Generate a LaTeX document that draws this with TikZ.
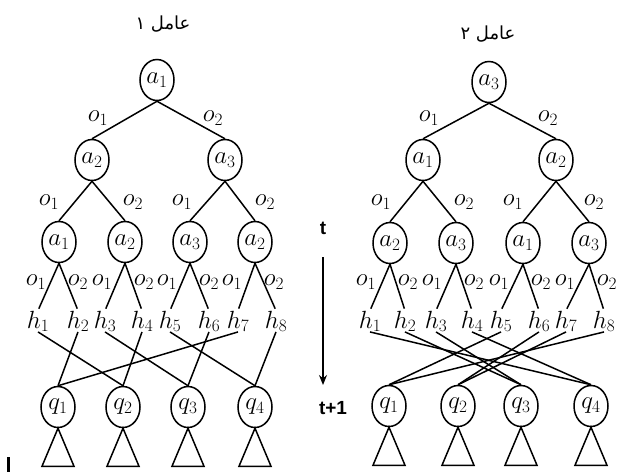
\documentclass[tikz,border=0pt]{standalone}
\usepackage{fontspec}
\usetikzlibrary{shapes.geometric,arrows.meta}
\TeXXeTstate=1
\newfontfamily\arabicfont[Script=Arabic]{DejaVu Sans}
\newfontfamily\labelsans{Liberation Sans}
\begin{document}
\begin{tikzpicture}[x=1pt,y=-1pt,
  st/.style={draw, ellipse, line width=1.5pt, minimum width=34pt, minimum height=41pt, inner sep=0pt, font=\fontsize{26}{30}\selectfont},
  hl/.style={inner sep=0pt, anchor=base, font=\fontsize{25}{29}\selectfont},
  ol/.style={inner sep=0pt, font=\fontsize{24}{28}\selectfont},
  ed/.style={line width=1.5pt},
  tri/.style={line width=1.5pt},
  ttl/.style={inner sep=0pt, font=\arabicfont\fontsize{18}{22}\selectfont},
  tl/.style={inner sep=0pt, font=\labelsans\bfseries\fontsize{19}{23}\selectfont}
]
\useasboundingbox (0,0) rectangle (622,472);

% ---------------- left tree ----------------
\node[ttl] (Lt) at (163,24) {\beginR عامل ۱\endR};
\node[st] (LR) at (157,80) {$a_1$};
\node[st] (L2a) at (92,160) {$a_2$};
\node[st] (L2b) at (225,160) {$a_3$};
\node[st] (L3a) at (59,242) {$a_1$};
\node[st] (L3b) at (125,242) {$a_2$};
\node[st] (L3c) at (190,242) {$a_3$};
\node[st] (L3d) at (255,242) {$a_2$};
\foreach \n/\x in {1/38,2/78,3/105,4/142,5/170,6/209,7/238,8/276}
  \node[hl] (Lh\n) at (\x,328) {$h_{\n}$};
\node[st] (Lq1) at (58,407) {$q_1$};
\node[st] (Lq2) at (123,407) {$q_2$};
\node[st] (Lq3) at (188,407) {$q_3$};
\node[st] (Lq4) at (255,407) {$q_4$};

\draw[ed] (LR.south) -- (L2a.north);
\draw[ed] (LR.south) -- (L2b.north);
\draw[ed] (L2a.south) -- (L3a.north);
\draw[ed] (L2a.south) -- (L3b.north);
\draw[ed] (L2b.south) -- (L3c.north);
\draw[ed] (L2b.south) -- (L3d.north);
\draw[ed,shorten >=2pt] (L3a.south) -- (Lh1.north);
\draw[ed,shorten >=2pt] (L3a.south) -- (Lh2.north);
\draw[ed,shorten >=2pt] (L3b.south) -- (Lh3.north);
\draw[ed,shorten >=2pt] (L3b.south) -- (Lh4.north);
\draw[ed,shorten >=2pt] (L3c.south) -- (Lh5.north);
\draw[ed,shorten >=2pt] (L3c.south) -- (Lh6.north);
\draw[ed,shorten >=2pt] (L3d.south) -- (Lh7.north);
\draw[ed,shorten >=2pt] (L3d.south) -- (Lh8.north);

\node[ol] (Lo1) at (98,118) {$o_1$};
\node[ol] (Lo2) at (213,118) {$o_2$};
\node[ol] (Lo3) at (49,202) {$o_1$};
\node[ol] (Lo4) at (133,202) {$o_2$};
\node[ol] (Lo5) at (182,202) {$o_1$};
\node[ol] (Lo6) at (265,202) {$o_2$};
\foreach \p/\k in {59/a,125/b,190/c,255/d}{
  \node[ol] (Lp\k1) at (\p-23,282) {$o_1$};
  \node[ol] (Lp\k2) at (\p+19,282) {$o_2$};
}

\draw[ed] (Lh1.south) -- (Lq2.north);
\draw[ed] (Lh2.south) -- (Lq1.north);
\draw[ed] (Lh3.south) -- (Lq3.north);
\draw[ed] (Lh4.south) -- (Lq2.north);
\draw[ed] (Lh5.south) -- (Lq4.north);
\draw[ed] (Lh6.south) -- (Lq3.north);
\draw[ed] (Lh7.south) -- (Lq1.north);
\draw[ed] (Lh8.south) -- (Lq4.north);

\foreach \q in {Lq1,Lq2,Lq3,Lq4}
  \draw[tri] (\q.south) -- ++(-16,38) -- ++(32,0) -- cycle;

% ---------------- right tree ----------------
\node[ttl] (Rt) at (488,34) {\beginR عامل ۲\endR};
\node[st] (RR) at (489,82) {$a_3$};
\node[st] (R2a) at (423,160) {$a_1$};
\node[st] (R2b) at (556,160) {$a_2$};
\node[st] (R3a) at (390,243) {$a_2$};
\node[st] (R3b) at (456,243) {$a_3$};
\node[st] (R3c) at (523,243) {$a_1$};
\node[st] (R3d) at (589,243) {$a_3$};
\foreach \n/\x in {1/370,2/405,3/436,4/472,5/501,6/539,7/566,8/604}
  \node[hl] (Rh\n) at (\x,328) {$h_{\n}$};
\node[st] (Rq1) at (389,406) {$q_1$};
\node[st] (Rq2) at (458,406) {$q_2$};
\node[st] (Rq3) at (521,406) {$q_3$};
\node[st] (Rq4) at (591,406) {$q_4$};

\draw[ed] (RR.south) -- (R2a.north);
\draw[ed] (RR.south) -- (R2b.north);
\draw[ed] (R2a.south) -- (R3a.north);
\draw[ed] (R2a.south) -- (R3b.north);
\draw[ed] (R2b.south) -- (R3c.north);
\draw[ed] (R2b.south) -- (R3d.north);
\draw[ed,shorten >=2pt] (R3a.south) -- (Rh1.north);
\draw[ed,shorten >=2pt] (R3a.south) -- (Rh2.north);
\draw[ed,shorten >=2pt] (R3b.south) -- (Rh3.north);
\draw[ed,shorten >=2pt] (R3b.south) -- (Rh4.north);
\draw[ed,shorten >=2pt] (R3c.south) -- (Rh5.north);
\draw[ed,shorten >=2pt] (R3c.south) -- (Rh6.north);
\draw[ed,shorten >=2pt] (R3d.south) -- (Rh7.north);
\draw[ed,shorten >=2pt] (R3d.south) -- (Rh8.north);

\node[ol] (Ro1) at (429,118) {$o_1$};
\node[ol] (Ro2) at (548,118) {$o_2$};
\node[ol] (Ro3) at (381,202) {$o_1$};
\node[ol] (Ro4) at (464,202) {$o_2$};
\node[ol] (Ro5) at (513,202) {$o_1$};
\node[ol] (Ro6) at (594,202) {$o_2$};
\foreach \p/\k in {390/a,456/b,523/c,589/d}{
  \node[ol] (Rp\k1) at (\p-24,282) {$o_1$};
  \node[ol] (Rp\k2) at (\p+18,282) {$o_2$};
}

\draw[ed] (Rh1.south) -- (Rq4.north);
\draw[ed] (Rh2.south) -- (Rq3.north);
\draw[ed] (Rh3.south) -- (Rq3.north);
\draw[ed] (Rh4.south) -- (Rq4.north);
\draw[ed] (Rh5.south) -- (Rq1.north);
\draw[ed] (Rh6.south) -- (Rq2.north);
\draw[ed] (Rh7.south) -- (Rq2.north);
\draw[ed] (Rh8.south) -- (Rq1.north);

\foreach \q in {Rq1,Rq2,Rq3,Rq4}
  \draw[tri] (\q.south) -- ++(-16,38) -- ++(32,0) -- cycle;

% ---------------- time arrow ----------------
\node[tl] (T0) at (323,228) {t};
\node[tl] (T1) at (333,408) {t+1};
\coordinate (A0) at (323,257);
\coordinate (A1) at (323,385);
\draw[line width=1.8pt, -{Stealth[length=10pt,width=8pt]}] (A0) -- (A1);

% small bar bottom-left
\coordinate (B0) at (8,457);
\coordinate (B1) at (8,472);
\draw[line width=3pt] (B0) -- (B1);
\end{tikzpicture}
\end{document}
